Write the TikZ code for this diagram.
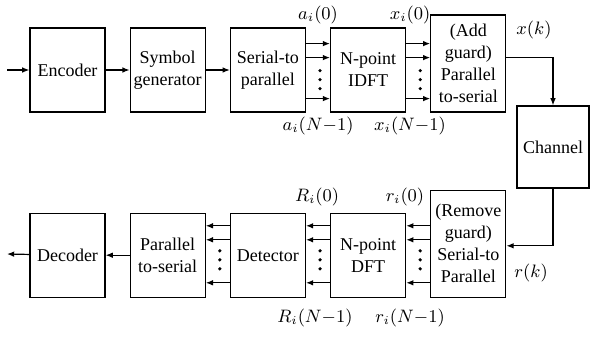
\documentclass[tikz,border=0pt]{standalone}
\usepackage{fontspec}
\setmainfont{Liberation Serif}
\usetikzlibrary{arrows.meta,positioning}

\begin{document}
\begin{tikzpicture}[
  x=0.5pt, y=-0.5pt,
  >={Latex[length=3.6pt,width=2.8pt]},
  node distance=12pt,
  blk/.style={draw,line width=0.6pt,minimum width=37.5pt,minimum height=42pt,
    inner sep=1pt,align=center,font=\fontsize{9}{11}\selectfont},
  link/.style={->,line width=0.6pt},
  lbl/.style={font=\fontsize{9}{11}\selectfont,inner sep=0pt}
]
  \useasboundingbox (0,0) rectangle (592,336);
  % transmitter
  \node[blk] (enc) at (67.5,70) {Encoder};
  \node[blk,right=of enc] (sym) {Symbol\\generator};
  \node[blk,right=of sym] (sp) {Serial-to\\parallel};
  \node[blk,right=of sp] (idft) {N-point\\IDFT};
  \node[blk,minimum height=48.5pt,right=12pt of idft.south east,anchor=south west] (ps)
    {(Add\\guard)\\Parallel\\to-serial};
  \node[blk,minimum width=36pt,minimum height=41pt] (chan) at (553,147) {Channel};
  % receiver
  \node[blk,below=50pt of enc] (dec) {Decoder};
  \node[blk,right=of dec] (pstwo) {Parallel\\to-serial};
  \node[blk,right=of pstwo] (det) {Detector};
  \node[blk,right=of det] (dft) {N-point\\DFT};
  \node[blk,minimum height=53.5pt,right=12pt of dft.south east,anchor=south west] (rem)
    {(Remove\\guard)\\Serial-to\\Parallel};

  \coordinate (src) at (7,70);
  \coordinate (sink) at (7,254);
  \draw[link] (src) -- (enc);
  \draw[link] (enc) -- (sym);
  \draw[link] (sym) -- (sp);
  \draw[link] (dec) -- (sink);
  \draw[link] (pstwo) -- (dec);

  % parallel branches
  \foreach \a/\b in {sp/idft,idft/ps}{
    \foreach \o in {34.5,27.5,7}
      \draw[link] ([yshift=\o pt]\a.south east) -- ([yshift=\o pt]\b.south west);
    \foreach \o in {21,16.5,12}
      \fill ([xshift=7pt,yshift=\o pt]\a.south east) circle (0.9pt);
  }
  \foreach \a/\b in {rem/dft,dft/det,det/pstwo}{
    \foreach \o in {36,29,7.5}
      \draw[link] ([yshift=\o pt]\a.south west) -- ([yshift=\o pt]\b.south east);
  }
  \foreach \a in {pstwo,det,dft}
    \foreach \o in {23.5,19,14.5}
      \fill ([xshift=7pt,yshift=\o pt]\a.south east) circle (0.9pt);

  % channel
  \draw[link] ([yshift=27.5pt]ps.south east) -| (chan.north);
  \draw[link] (chan.south) |- ([yshift=26pt]rem.south east);

  % signal labels
  \node[lbl] (a0) at (318,15) {$a_i(0)$};
  \node[lbl] (aN) at (318,126) {$a_i(N{-}1)$};
  \node[lbl] (x0) at (410,15) {$x_i(0)$};
  \node[lbl] (xN) at (410,126) {$x_i(N{-}1)$};
  \node[lbl] (xk) at (534,30) {$x(k)$};
  \node[lbl] (R0) at (317,197) {$R_i(0)$};
  \node[lbl] (RN) at (315,318) {$R_i(N{-}1)$};
  \node[lbl] (r0) at (405,197) {$r_i(0)$};
  \node[lbl] (rN) at (410,318) {$r_i(N{-}1)$};
  \node[lbl] (rk) at (531,273) {$r(k)$};
\end{tikzpicture}
\end{document}
